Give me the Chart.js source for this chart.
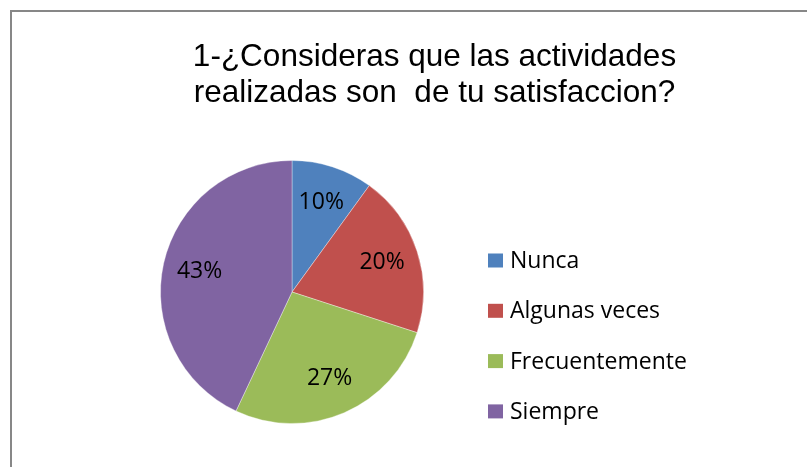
<!DOCTYPE html>
<html>
<head>
<meta charset="utf-8">
<script src="https://cdn.jsdelivr.net/npm/chart.js@4"></script>
<style>
  html, body { margin: 0; padding: 0; background: #ffffff; overflow: hidden; width: 807px; height: 467px; }
  #frame { position: absolute; left: 10px; top: 10px; width: 850px; height: 470px;
           border-left: 2px solid #878787; border-top: 2px solid #878787; background: #fff; }
  #wrap { position: absolute; left: 0; top: 0; width: 848px; height: 455px; }
</style>
</head>
<body>
<div id="frame"><div id="wrap"><canvas id="c"></canvas></div></div>
<script>
// ---- data ----
const categories = ['Nunca', 'Algunas veces', 'Frecuentemente', 'Siempre'];
const values = [10, 20, 27, 43];
const sliceColors = ['#4F81BD', '#C0504D', '#9BBB59', '#8064A2'];
const titleLines = ['1-\u00BFConsideras que las actividades', 'realizadas son  de tu satisfaccion?'];

// ---- style ----
const LABEL_FONT = '23px "Open Sans"';
const LEGEND_FONT = '23px "Open Sans"';
const LEGEND_W = 285;

// percentage labels inside slices
const sliceLabels = {
  id: 'sliceLabels',
  afterDatasetsDraw(chart) {
    const ctx = chart.ctx;
    const meta = chart.getDatasetMeta(0);
    const data = chart.data.datasets[0].data;
    const total = data.reduce((a, b) => a + b, 0);
    ctx.save();
    ctx.font = LABEL_FONT;
    ctx.fillStyle = '#000';
    ctx.textAlign = 'center';
    ctx.textBaseline = 'middle';
    meta.data.forEach((arc, i) => {
      const p = arc.getProps(['x', 'y', 'startAngle', 'endAngle', 'outerRadius'], true);
      const mid = (p.startAngle + p.endAngle) / 2;
      const r = p.outerRadius * 0.72;
      const pct = Math.round(data[i] / total * 100) + '%';
      ctx.fillText(pct, p.x + Math.cos(mid) * r, p.y + Math.sin(mid) * r);
    });
    ctx.restore();
  }
};

// legend as a layout box on the right
const sideLegend = {
  id: 'sideLegend',
  beforeInit(chart) {
    const box = {
      position: 'right', weight: 1000, fullSize: false, options: {},
      left: 0, top: 0, right: 0, bottom: 0, width: 0, height: 0,
      isHorizontal() { return false; },
      update(maxWidth, maxHeight) { this.width = LEGEND_W; this.height = maxHeight; },
      draw() {
        const ctx = chart.ctx;
        const ds = chart.data.datasets[0];
        ctx.save();
        ctx.font = LEGEND_FONT;
        ctx.textAlign = 'left';
        ctx.textBaseline = 'middle';
        const x0 = this.left + 64;
        const y0 = this.top + 100.5;
        const rowH = 50.3;
        chart.data.labels.forEach((lab, i) => {
          const cy = y0 + i * rowH;
          ctx.fillStyle = ds.backgroundColor[i];
          ctx.fillRect(x0, cy - 7, 15, 14);
          ctx.fillStyle = '#000';
          ctx.fillText(lab, x0 + 22, cy + 1);
        });
        ctx.restore();
      }
    };
    Chart.layouts.addBox(chart, box);
  }
};

new Chart(document.getElementById('c'), {
  type: 'pie',
  data: {
    labels: categories,
    datasets: [{
      data: values,
      backgroundColor: sliceColors,
      borderWidth: 1,
      borderColor: 'rgba(255,255,255,0.35)'
    }]
  },
  options: {
    responsive: true,
    maintainAspectRatio: false,
    animation: false,
    layout: { padding: { left: 148, right: 151, top: 0, bottom: 43 } },
    plugins: {
      legend: { display: false },
      tooltip: { enabled: false },
      title: {
        display: true,
        text: titleLines,
        color: '#000',
        font: { family: '"Liberation Sans", Arial, sans-serif', size: 31.5, weight: 'normal', lineHeight: '36.7px' },
        padding: { top: 26.7, bottom: 47.9 }
      }
    }
  },
  plugins: [sliceLabels, sideLegend]
});
</script>
</body>
</html>
